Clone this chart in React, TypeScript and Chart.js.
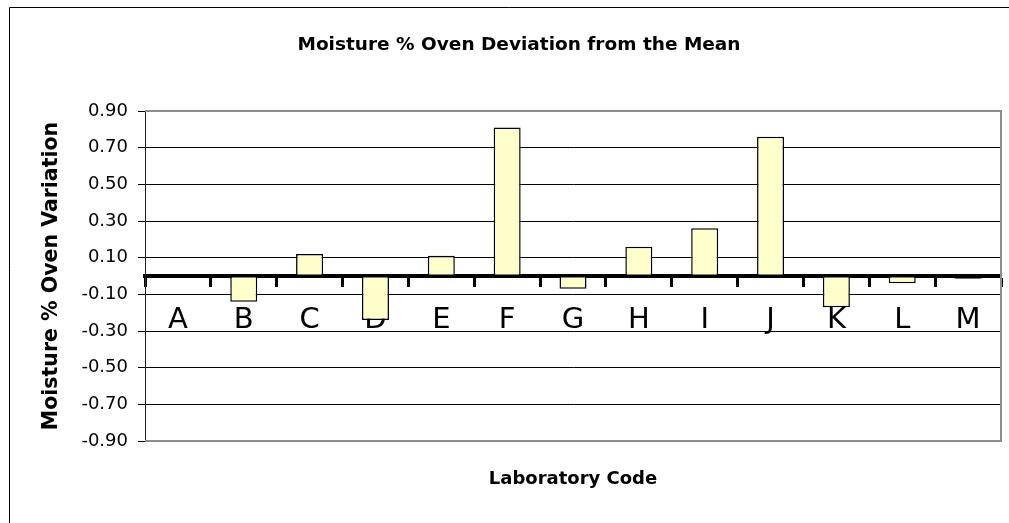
import React, { useEffect, useRef } from 'react';
import { Chart, registerables } from 'chart.js';

Chart.register(...registerables);

const categories = ['A', 'B', 'C', 'D', 'E', 'F', 'G', 'H', 'I', 'J', 'K', 'L', 'M'];
const deviations = [0, -0.14, 0.12, -0.24, 0.11, 0.81, -0.07, 0.16, 0.26, 0.76, -0.17, -0.04, -0.015];
const yMin = -0.9;
const yMax = 0.9;
const yStep = 0.2;
const chartTitle = 'Moisture % Oven Deviation from the Mean';
const yAxisTitle = 'Moisture % Oven Variation';
const xAxisTitle = 'Laboratory Code';

const FONT = 'DejaVu Sans';

const framePlugin = {
  id: 'frame',
  beforeDatasetsDraw(chart: any) {
    const { ctx, chartArea } = chart;
    const { left, top, right, bottom } = chartArea;
    ctx.save();
    ctx.strokeStyle = '#8c8c8c';
    ctx.lineWidth = 2;
    ctx.beginPath();
    ctx.moveTo(left, top);
    ctx.lineTo(right, top);
    ctx.lineTo(right, bottom);
    ctx.lineTo(left, bottom);
    ctx.stroke();
    ctx.restore();
  },
  afterDraw(chart: any) {
    const { ctx, width, height } = chart;
    ctx.save();
    ctx.strokeStyle = '#000';
    ctx.lineWidth = 1;
    ctx.beginPath();
    ctx.moveTo(9.5, height);
    ctx.lineTo(9.5, 7.5);
    ctx.lineTo(width, 7.5);
    ctx.stroke();
    ctx.restore();
  },
};

export default function App() {
  const ref = useRef<HTMLCanvasElement | null>(null);

  useEffect(() => {
    if (!ref.current) return;
    const chart = new Chart(ref.current, {
      type: 'bar',
      data: {
        labels: categories,
        datasets: [
          {
            data: deviations,
            backgroundColor: '#FFFFCC',
            borderColor: '#000000',
            borderWidth: 1.5,
            borderSkipped: false,
            barPercentage: 0.41,
            categoryPercentage: 1,
            xAxisID: 'x',
            yAxisID: 'y',
          },
        ],
      },
      options: {
        responsive: false,
        animation: false,
        devicePixelRatio: 1,
        layout: { padding: { left: 37, right: 8, top: 0, bottom: 0 } },
        font: { family: FONT },
        plugins: {
          legend: { display: false },
          tooltip: { enabled: false },
          title: {
            display: true,
            text: chartTitle,
            color: '#000',
            font: { family: FONT, size: 18.5, weight: 'bold' },
            padding: { top: 33.9, bottom: 54.9 },
          },
        },
        scales: {
          x: {
            type: 'category',
            position: { y: 0 } as any,
            offset: true,
            z: 1,
            grid: {
              display: true,
              drawOnChartArea: false,
              drawTicks: true,
              tickLength: 9,
              tickWidth: 3,
              tickColor: '#000',
              offset: true,
            },
            border: { display: true, color: '#000', width: 4 },
            ticks: {
              color: '#000',
              font: { family: FONT, size: 29 },
              padding: 18,
              maxRotation: 0,
              autoSkip: false,
            },
          },
          x2: {
            type: 'category',
            position: 'bottom',
            grid: { display: false, drawTicks: false },
            border: { display: false },
            ticks: { display: false },
            title: {
              display: true,
              text: xAxisTitle,
              color: '#000',
              font: { family: FONT, size: 18, weight: 'bold' },
              padding: { top: 27.2, bottom: 33.2 },
            },
          },
          y: {
            type: 'linear',
            position: 'left',
            min: yMin,
            max: yMax,
            afterFit(scale: any) {
              scale.width = 108;
            },
            ticks: {
              stepSize: yStep,
              color: '#000',
              font: { family: FONT, size: 18 },
              padding: 10,
              callback: (v: any) => Number(v).toFixed(2),
            },
            grid: {
              color: (ctx: any) =>
                ctx.tick && Math.abs(ctx.tick.value) > 0.89 ? 'rgba(0,0,0,0)' : '#000',
              lineWidth: 1,
              drawTicks: true,
              tickLength: 7,
              tickColor: '#000',
            },
            border: { display: true, color: '#222', width: 1 },
            title: {
              display: true,
              text: yAxisTitle,
              color: '#000',
              font: { family: FONT, size: 20.5, weight: 'bold' },
              padding: { top: 2, bottom: 0 },
            },
          },
        },
      },
      plugins: [framePlugin],
    });
    return () => chart.destroy();
  }, []);

  return (
    <div style={{ position: 'absolute', left: 0, top: 0, width: 1009, height: 523, overflow: 'hidden' }}>
      <canvas ref={ref} width={1009} height={523} style={{ display: 'block' }} />
    </div>
  );
}
